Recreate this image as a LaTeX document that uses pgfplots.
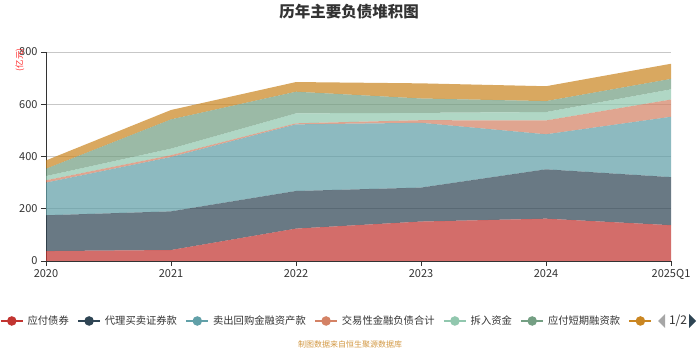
\documentclass[border=0pt]{standalone}
\usepackage{fontspec}
\setmainfont{Noto Sans CJK SC}
\usepackage{pgfplots}
\pgfplotsset{compat=1.18}
\definecolor{c1}{HTML}{C23531}
\definecolor{c2}{HTML}{2F4554}
\definecolor{c3}{HTML}{61A0A8}
\definecolor{c4}{HTML}{D48265}
\definecolor{c5}{HTML}{91C7AE}
\definecolor{c6}{HTML}{749F83}
\definecolor{c7}{HTML}{CA8622}
\definecolor{txt}{HTML}{333333}
\newcommand{\legicon}[1]{\draw[#1, draw opacity=1, line width=1.6pt] (0pt,0pt)--(22pt,0pt); \fill[#1, fill opacity=1] (11pt,0pt) circle (4.8pt);}
\begin{document}
\begin{tikzpicture}[x=1pt,y=1pt]
\useasboundingbox (0,0) rectangle (700,350);
\begin{axis}[
  at={(46pt,89pt)}, anchor=south west,
  scale only axis, width=625pt, height=209pt,
  xmin=0, xmax=5, ymin=0, ymax=800,
  stack plots=y,
  axis lines*=left,
  axis line style={-, color=txt, line width=0.8pt},
  xtick={0,...,5},
  xticklabels={2020,2021,2022,2023,2024,2025Q1},
  ytick={0,200,...,800},
  xtick pos=left, ytick pos=left,
  tick align=outside, major tick length=5pt,
  tick style={color=txt, line width=0.8pt},
  ymajorgrids,
  grid style={color=black!22, line width=0.7pt},
  ticklabel style={font=\fontsize{11}{13}\selectfont, text=txt},
  /pgf/number format/assume math mode=true,
  legend columns=7,
  legend style={at={(-0.0736,-0.287)}, anchor=west, draw=none, fill=none,
    inner sep=0pt, outer sep=0pt, font=\fontsize{10.3}{12}\selectfont, text=txt,
    nodes={inner sep=0pt},
    /tikz/every odd column/.append style={column sep=4pt},
    /tikz/every even column/.append style={column sep=8.5pt}},
]
\addplot[fill=c1, fill opacity=0.72, draw=none, legend image code/.code={\legicon{c1}}]
  coordinates {(0,38) (1,42) (2,124) (3,151) (4,162) (5,137)} \closedcycle;
\addlegendentry{应付债券}
\addplot[fill=c2, fill opacity=0.72, draw=none, legend image code/.code={\legicon{c2}}]
  coordinates {(0,137) (1,148) (2,144) (3,130) (4,189) (5,184)} \closedcycle;
\addlegendentry{代理买卖证券款}
\addplot[fill=c3, fill opacity=0.72, draw=none, legend image code/.code={\legicon{c3}}]
  coordinates {(0,125) (1,208) (2,255) (3,248) (4,134) (5,231)} \closedcycle;
\addlegendentry{卖出回购金融资产款}
\addplot[fill=c4, fill opacity=0.72, draw=none, legend image code/.code={\legicon{c4}}]
  coordinates {(0,9) (1,7) (2,4) (3,10) (4,53) (5,66)} \closedcycle;
\addlegendentry{交易性金融负债合计}
\addplot[fill=c5, fill opacity=0.72, draw=none, legend image code/.code={\legicon{c5}}]
  coordinates {(0,16) (1,25) (2,38) (3,28) (4,32) (5,39)} \closedcycle;
\addlegendentry{拆入资金}
\addplot[fill=c6, fill opacity=0.72, draw=none, legend image code/.code={\legicon{c6}}]
  coordinates {(0,28) (1,112) (2,83) (3,55) (4,42) (5,40)} \closedcycle;
\addlegendentry{应付短期融资款}
\addplot[fill=c7, fill opacity=0.72, draw=none, legend image code/.code={\legicon{c7}}]
  coordinates {(0,32) (1,36) (2,37) (3,58) (4,57) (5,58)} \closedcycle;
\addlegendentry{}
\end{axis}
\node[font=\fontsize{15.5}{18}\selectfont\bfseries, text=txt] at (349,338) {历年主要负债堆积图};
\node[rotate=90, font=\fontsize{8.5}{10}\selectfont, text=red!85] at (20,290) {(亿元)};
\node[font=\fontsize{8}{10}\selectfont, text=c7!85] at (350,6) {制图数据来自恒生聚源数据库};
\fill[black!35] (665,36) -- (658,29) -- (665,22) -- cycle;
\node[font=\fontsize{12}{14}\selectfont, text=txt] at (678,29) {1/2};
\fill[c2] (689,36) -- (696,29) -- (689,22) -- cycle;
\end{tikzpicture}
\end{document}
